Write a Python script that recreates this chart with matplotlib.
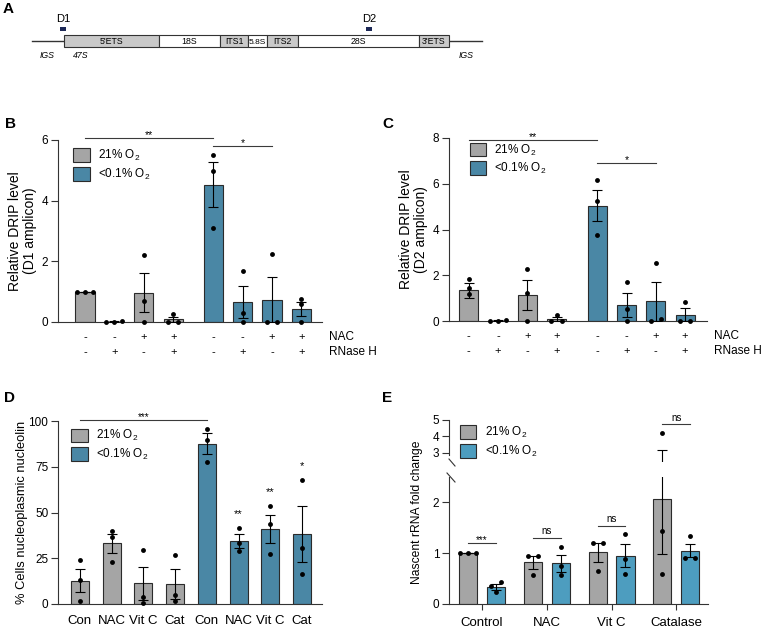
import numpy as np
import matplotlib.pyplot as plt
from matplotlib.patches import Patch, Rectangle
from matplotlib.lines import Line2D

plt.rcParams['font.family'] = ['Liberation Sans', 'DejaVu Sans']
plt.rcParams['mathtext.default'] = 'regular'
plt.rcParams['font.size'] = 8
plt.rcParams['axes.linewidth'] = 0.8
plt.rcParams['axes.edgecolor'] = '#333333'
plt.rcParams['xtick.color'] = '#333333'
plt.rcParams['ytick.color'] = '#333333'
plt.rcParams['xtick.labelcolor'] = 'black'
plt.rcParams['ytick.labelcolor'] = 'black'

GRAY = '#a5a5a5'
BLUE = '#4a87a5'
BLUE_E = '#4d9dbf'
EDGE = '#2b2b2b'

# A: rDNA unit
seg_names = ["5'ETS", "18S", "ITS1", "5.8S", "ITS2", "28S", "3'ETS"]
seg_edges = [64, 159, 220, 248, 267, 298, 419, 449]
seg_shaded = [True, False, True, False, True, False, True]
amplicon_names = ["D1", "D2"]
amplicon_pos = [63, 369]

# B / C: DRIP
nac_row = ['-', '-', '+', '+', '-', '-', '+', '+']
rnh_row = ['-', '+', '-', '+', '-', '+', '-', '+']
d1_mean = [1.0, 0.013, 0.97, 0.09, 4.53, 0.66, 0.74, 0.44]
d1_sem = [0.0, 0.01, 0.65, 0.09, 0.73, 0.52, 0.75, 0.23]
d1_pts = [[1.0, 1.0, 1.0], [0.01, 0.03, 0.0], [2.2, 0.7, 0.0], [0.27, 0.0, 0.0],
          [5.52, 4.98, 3.10], [1.69, 0.31, 0.0], [2.24, 0.0, 0.0], [0.75, 0.59, 0.0]]
d2_mean = [1.34, 0.013, 1.15, 0.08, 5.04, 0.70, 0.86, 0.28]
d2_sem = [0.32, 0.01, 0.66, 0.08, 0.69, 0.52, 0.85, 0.28]
d2_pts = [[1.84, 1.46, 1.17], [0.0, 0.03, 0.0], [2.28, 1.23, 0.0], [0.26, 0.0, 0.0],
          [6.15, 5.26, 3.77], [1.69, 0.51, 0.0], [2.55, 0.09, 0.0], [0.85, 0.0, 0.0]]

# D: nucleoplasmic nucleolin
d_labels = ['Con', 'NAC', 'Vit C', 'Cat', 'Con', 'NAC', 'Vit C', 'Cat']
nuc_mean = [12.7, 33.2, 11.3, 10.9, 87.6, 34.4, 41.1, 38.2]
nuc_sem = [6.4, 5.2, 9.1, 8.1, 5.6, 3.7, 7.7, 15.3]
nuc_pts = [[24.0, 13.0, 1.6], [40.0, 36.7, 23.0], [29.5, 3.6, 0.7], [27.0, 4.9, 1.8],
           [95.8, 89.5, 77.6], [41.3, 33.1, 28.9], [53.6, 43.5, 27.3], [67.6, 30.7, 16.4]]
nuc_stars = ['', '', '', '', '', '**', '**', '*']

# E: nascent rRNA
e_groups = ['Control', 'NAC', 'Vit C', 'Catalase']
e_norm_mean = [1.0, 0.82, 1.02, 2.07]
e_norm_sem = [0.0, 0.13, 0.19, 1.08]
e_norm_pts = [[1.0, 1.0, 1.0], [0.95, 0.95, 0.57], [1.21, 1.21, 0.64], [4.22, 1.44, 0.59]]
e_hyp_mean = [0.33, 0.80, 0.95, 1.05]
e_hyp_sem = [0.06, 0.17, 0.23, 0.13]
e_hyp_pts = [[0.43, 0.36, 0.23], [1.12, 0.75, 0.57], [1.38, 0.89, 0.60], [1.33, 0.91, 0.91]]
e_sig = ['***', 'ns', 'ns', 'ns']

W, H = 764, 629
fig = plt.figure(figsize=(W / 100, H / 100), dpi=100)


def add_ax(l, t, r, b):
    return fig.add_axes([l / W, 1 - b / H, (r - l) / W, (b - t) / H])


def style(ax):
    ax.spines['top'].set_visible(False)
    ax.spines['right'].set_visible(False)
    ax.tick_params(axis='y', length=5, width=0.8, labelsize=8.5, pad=2)


def spread(vals, close, step):
    vals = np.asarray(vals, float)
    off = np.zeros(len(vals))
    order = np.argsort(vals)
    groups = [[order[0]]]
    for i in order[1:]:
        if vals[i] - vals[groups[-1][-1]] < close:
            groups[-1].append(i)
        else:
            groups.append([i])
    for g in groups:
        n = len(g)
        k = 1.3 if n == 2 else 1.0
        for j, i in enumerate(g):
            off[i] = (j - (n - 1) / 2) * step * k
    return off


def bars(ax, x, mean, sem, pts, colors, width, close):
    lo, hi = ax.get_ylim()
    ax.bar(x, mean, width, color=colors, edgecolor=EDGE, linewidth=0.8, zorder=2)
    ax.errorbar(x, mean, yerr=sem, fmt='none', ecolor='black', elinewidth=0.8,
                capsize=3.3, capthick=0.8, zorder=3)
    for xi, p in zip(x, pts):
        p = np.asarray(p, float)
        xs = xi + spread(p, close, 0.42 * width)
        keep = (p >= lo - 1e-9) & (p <= hi)
        ax.plot(xs[keep], p[keep], 'o', color='black', ms=3.5, mew=0, zorder=4, clip_on=False)


def bracket(ax, x1, x2, y, label, off, fs=7.5):
    ax.plot([x1, x2], [y, y], color='#3a3a3a', lw=0.8, clip_on=False)
    ax.annotate(label, xy=((x1 + x2) / 2, y), xytext=(0, off), textcoords='offset points',
                ha='center', va='baseline', fontsize=fs, annotation_clip=False)


def legend(ax, blue, x, y):
    h = [Patch(facecolor=GRAY, edgecolor=EDGE, lw=0.8), Patch(facecolor=blue, edgecolor=EDGE, lw=0.8)]
    ax.legend(h, ['21% O$_2$', '<0.1% O$_2$'], loc='upper left', bbox_to_anchor=(x, y),
              frameon=False, borderpad=0, borderaxespad=0, handlelength=1.4, handleheight=1.4,
              handletextpad=0.7, labelspacing=0.3, fontsize=8.5)


def panel_letter(s, x, y):
    fig.text(x / W, 1 - y / H, s, fontsize=11, fontweight='bold', ha='left', va='top')


# ---- A
axA = fig.add_axes([0, 1 - 100 / H, 1, 100 / H])
axA.set_xlim(0, W)
axA.set_ylim(100, 0)
axA.axis('off')
axA.plot([32, 482], [41, 41], color='#333333', lw=1.0, zorder=1)
for name, a, b, sh in zip(seg_names, seg_edges[:-1], seg_edges[1:], seg_shaded):
    axA.add_patch(Rectangle((a, 34.5), b - a, 12.5, facecolor='#c9c9c9' if sh else 'white',
                            edgecolor='#333333', lw=0.8, zorder=2))
    axA.text((a + b) / 2, 41.3 if name != '5.8S' else 42.5, name, ha='center', va='center',
             fontsize=6.3 if name != '5.8S' else 6.0, zorder=3)
for name, xp in zip(amplicon_names, amplicon_pos):
    axA.text(xp, 18.5, name, ha='center', va='center', fontsize=8)
    axA.add_patch(Rectangle((xp - 3, 27), 6, 4, facecolor='#1c2856', edgecolor='none'))
axA.text(47, 56, 'IGS', ha='center', va='center', fontsize=6.3, style='italic')
axA.text(81, 56, '47S', ha='center', va='center', fontsize=6.3, style='italic')
axA.text(466, 56, 'IGS', ha='center', va='center', fontsize=6.3, style='italic')

# ---- B and C
def drip_panel(ax, pos, xlim, ymax, yticks, mean, sem, pts, close, label, sigs):
    ax.set_xlim(*xlim)
    ax.set_ylim(0, ymax)
    ax.set_yticks(yticks)
    style(ax)
    ax.set_xticks([])
    colors = [GRAY] * 4 + [BLUE] * 4
    bars(ax, pos, mean, sem, pts, colors, 0.65, close)
    for xi, n, r in zip(pos, nac_row, rnh_row):
        ax.annotate(n, xy=(xi, 0), xytext=(0, -11), textcoords='offset points',
                    ha='center', va='center', fontsize=8, annotation_clip=False)
        ax.annotate(r, xy=(xi, 0), xytext=(0, -21.5), textcoords='offset points',
                    ha='center', va='center', fontsize=8, annotation_clip=False)
    ax.annotate('NAC', xy=(1, 0), xycoords='axes fraction', xytext=(5, -11), textcoords='offset points',
                ha='left', va='center', fontsize=8.5)
    ax.annotate('RNase H', xy=(1, 0), xycoords='axes fraction', xytext=(5, -21.5), textcoords='offset points',
                ha='left', va='center', fontsize=8.5)
    ax.set_ylabel(label, fontsize=10, labelpad=3, linespacing=1.1)
    for i, j, y, s in sigs:
        bracket(ax, pos[i], pos[j], y, s, 0)


posB = [0, 1, 2, 3, 4.36, 5.36, 6.36, 7.36]
axB = add_ax(58, 140, 322, 322)
drip_panel(axB, posB, (-0.92, 8.06), 6, [0, 2, 4, 6], d1_mean, d1_sem, d1_pts, 0.13,
           'Relative DRIP level\n(D1 amplicon)', [(0, 4, 6.05, '**'), (4, 6, 5.79, '*')])
legend(axB, BLUE, 0.057, 0.955)

posC = [0, 1, 2, 3, 4.4, 5.4, 6.4, 7.4]
axC = add_ax(449, 138, 707, 321)
drip_panel(axC, posC, (-0.68, 8.15), 8, [0, 2, 4, 6, 8], d2_mean, d2_sem, d2_pts, 0.17,
           'Relative DRIP level\n(D2 amplicon)', [(0, 4, 7.92, '**'), (4, 6, 6.9, '*')])
legend(axC, BLUE, 0.08, 0.975)

# ---- D
axD = add_ax(58, 421, 322, 604)
posD = np.arange(8)
axD.set_xlim(-0.69, 7.63)
axD.set_ylim(0, 100)
axD.set_yticks([0, 25, 50, 75, 100])
style(axD)
axD.set_xticks(posD)
axD.set_xticklabels(d_labels, fontsize=9.5)
axD.tick_params(axis='x', length=0, pad=8)
bars(axD, posD, nuc_mean, nuc_sem, nuc_pts, [GRAY] * 4 + [BLUE] * 4, 0.57, 2.2)
axD.set_ylabel('% Cells nucleoplasmic nucleolin', fontsize=9.3, labelpad=0.5)
bracket(axD, 0, 4, 100.5, '***', 0, fs=7)
for xi, p, s in zip(posD, nuc_pts, nuc_stars):
    if s:
        axD.annotate(s, xy=(xi, max(p)), xytext=(0, 8), textcoords='offset points',
                     ha='center', va='baseline', fontsize=8)
legend(axD, BLUE, 0.05, 0.96)

# ---- E (broken axis)
axE = add_ax(449, 477, 708, 604)
axEt = add_ax(449, 420, 708, 462)
posE = np.arange(4)
bw = 0.28
for ax, lim in ((axE, (0, 2.5)), (axEt, (2.45, 5))):
    ax.set_xlim(-0.51, 3.49)
    ax.set_ylim(*lim)
    style(ax)
    bars(ax, posE - 0.215, e_norm_mean, e_norm_sem, e_norm_pts, GRAY, bw, 0.08)
    bars(ax, posE + 0.215, e_hyp_mean, e_hyp_sem, e_hyp_pts, BLUE_E, bw, 0.08)
axE.set_yticks([0, 1, 2])
axE.set_xticks(posE)
axE.set_xticklabels(e_groups, fontsize=9.5)
axE.tick_params(axis='x', length=4, width=0.8, pad=5)
axEt.set_yticks([3, 4, 5])
axEt.set_xticks([])
axEt.spines['bottom'].set_visible(False)
axEt.spines['left'].set_bounds(2.88, 5)
axEt.patch.set_alpha(0)
# break marks
for (x1, y1), (x2, y2) in (((449, 459), (455, 466)), ((447, 473), (455, 482))):
    fig.add_artist(Line2D([x1 / W, x2 / W], [1 - y1 / H, 1 - y2 / H], color='#333333', lw=0.8))
fig.text(417 / W, 1 - 512 / H, 'Nascent rRNA fold change', rotation=90, ha='center', va='center', fontsize=8.7)
e_line_y = [1.20, 1.30, 1.54]
for i, y in enumerate(e_line_y):
    bracket(axE, posE[i] - 0.215, posE[i] + 0.215, y, e_sig[i], 2.5 if e_sig[i] == 'ns' else 0, fs=7)
bracket(axEt, posE[3] - 0.215, posE[3] + 0.215, 4.75, e_sig[3], 2.5, fs=7)
legend(axEt, BLUE_E, 0.042, 0.88)

panel_letter('A', 3, 2)
panel_letter('B', 5, 117)
panel_letter('C', 382, 117)
panel_letter('D', 4, 391)
panel_letter('E', 382, 391)

fig.savefig('out.png', dpi=100)
